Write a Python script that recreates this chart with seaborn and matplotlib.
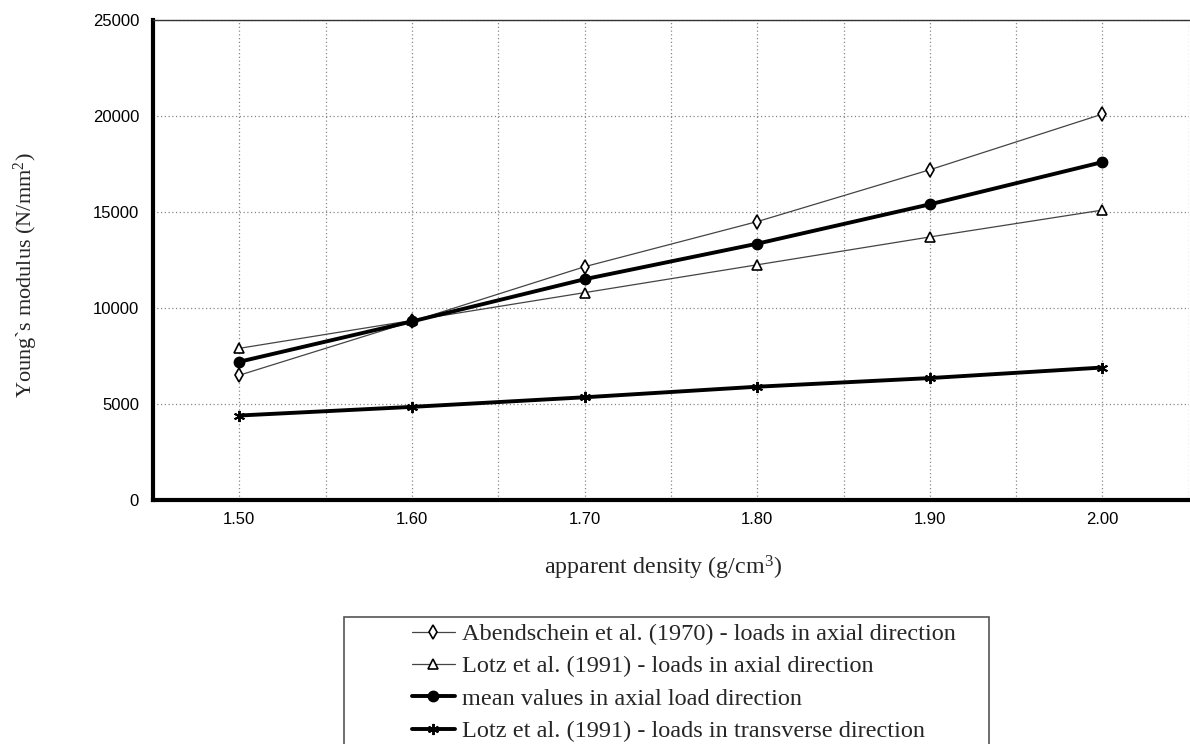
import matplotlib
matplotlib.use("Agg")
import matplotlib.pyplot as plt
import seaborn as sns
import pandas as pd
from matplotlib.patches import Rectangle
from matplotlib.ticker import MultipleLocator

# ---- data ----
density = [1.50, 1.60, 1.70, 1.80, 1.90, 2.00]
abendschein_axial = [6500, 9300, 12150, 14500, 17200, 20100]
lotz_axial = [7900, 9350, 10800, 12250, 13700, 15100]
mean_axial = [7200, 9300, 11500, 13350, 15400, 17600]
lotz_transverse = [4400, 4850, 5350, 5900, 6350, 6900]

labels = [
    "Abendschein et al. (1970) - loads in axial direction",
    "Lotz et al. (1991) - loads in axial direction",
    "mean values in axial load direction",
    "Lotz et al. (1991) - loads in transverse direction",
]
x_ticks = [1.50, 1.60, 1.70, 1.80, 1.90, 2.00]
x_tick_labels = ["1.50", "1.60", "1.70", "1.80", "1.90", "2.00"]
y_ticks = [0, 5000, 10000, 15000, 20000, 25000]

sns.set_style("white")
plt.rcParams["font.family"] = ["Liberation Sans", "DejaVu Sans"]
plt.rcParams["mathtext.fontset"] = "custom"
plt.rcParams["mathtext.rm"] = "Liberation Serif"

fig = plt.figure(figsize=(11.9, 7.44), dpi=100)
ax = fig.add_axes([153 / 1190, 1 - 500 / 744, 1 - 153 / 1190 - 0.001, 480 / 744])

serif = ["Liberation Serif", "DejaVu Serif"]

styles = [
    (abendschein_axial, dict(color="#444444", lw=0.9, marker="d", ms=7, mfc="white", mec="black", mew=1.2)),
    (lotz_axial, dict(color="#444444", lw=0.9, marker="^", ms=6.5, mfc="white", mec="black", mew=1.2)),
    (mean_axial, dict(color="black", lw=2.8, marker="o", ms=7.5, mfc="black", mec="black", mew=1)),
    (lotz_transverse, dict(color="black", lw=2.8, marker=(6, 2, 0), ms=8, mfc="black", mec="black", mew=1.4)),
]
for (vals, st), lab in zip(styles, labels):
    d = pd.DataFrame({"density": density, "E": vals})
    sns.lineplot(data=d, x="density", y="E", ax=ax, label=lab, **st)

ax.set_xlim(1.45, 2.05)
ax.set_ylim(0, 25000)
ax.set_xticks(x_ticks)
ax.set_xticklabels(x_tick_labels)
ax.xaxis.set_minor_locator(MultipleLocator(0.05))
ax.set_yticks(y_ticks)
ax.set_yticklabels([str(v) for v in y_ticks])
ax.tick_params(axis="both", which="both", direction="out", length=3, width=2,
               color="black", labelsize=12, labelcolor="black")
ax.tick_params(axis="x", pad=6)
ax.tick_params(axis="y", pad=7)

ax.grid(True, which="both", axis="x", linestyle=(0, (1, 2)), color="#888888", lw=0.9)
ax.grid(True, which="major", axis="y", linestyle=(0, (1, 2)), color="#888888", lw=0.9)

for s in ["left", "bottom"]:
    ax.spines[s].set_linewidth(3)
    ax.spines[s].set_color("black")
ax.spines["top"].set_linewidth(1)
ax.spines["top"].set_color("#333333")
ax.spines["right"].set_visible(False)

ax.set_xlabel(r"apparent density (g/cm$\mathregular{^3}$)", fontsize=17.3, family=serif)
ax.set_ylabel(r"Young`s modulus (N/mm$\mathregular{^2}$)", fontsize=16, family=serif)
ax.xaxis.set_label_coords((663 - 153) / 1036, -(568 - 500) / 480)
ax.yaxis.set_label_coords(-(153 - 26) / 1036, (500 - 275) / 480)
ax.xaxis.label.set_va("center")
ax.yaxis.label.set_va("center")

ax.get_legend().remove()
handles, labs = ax.get_legend_handles_labels()
fig.patches.append(Rectangle((344 / 1190, 1 - 760 / 744), (989 - 344) / 1190, (760 - 617) / 744,
                             transform=fig.transFigure, fill=False, edgecolor="#555555", lw=1.2))
fig.legend(handles, labs, loc="upper left", bbox_to_anchor=(412 / 1190, 1 - 623 / 744),
           frameon=False, prop={"family": serif, "size": 17.5}, handlelength=1.75,
           handletextpad=0.3, labelspacing=0.43, borderpad=0, borderaxespad=0)

fig.savefig("out.png", dpi=100)
